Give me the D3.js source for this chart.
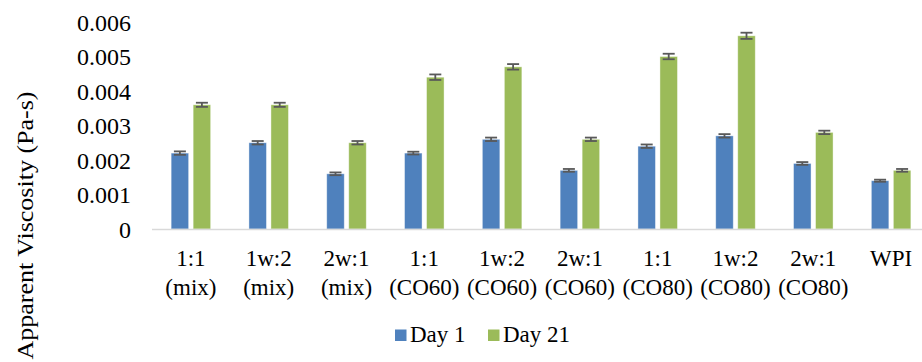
<!DOCTYPE html>
<html><head><meta charset="utf-8">
<script src="https://cdn.jsdelivr.net/npm/d3@7"></script>
<style>
@font-face{font-family:"ChartSerif";src:local("Liberation Serif"),local("LiberationSerif"),local("Tinos"),local("Times New Roman");}
</style>
</head>
<body style="margin:0">
<svg id="c" width="922" height="362" style="font-family:'Liberation Serif',ChartSerif,serif"></svg>
<script>
const categories = [["1:1","(mix)"],["1w:2","(mix)"],["2w:1","(mix)"],["1:1","(CO60)"],["1w:2","(CO60)"],["2w:1","(CO60)"],["1:1","(CO80)"],["1w:2","(CO80)"],["2w:1","(CO80)"],["WPI"]];
const seriesNames = ["Day 1","Day 21"];
const day1 = [0.0022,0.0025,0.0016,0.0022,0.0026,0.0017,0.0024,0.0027,0.0019,0.0014];
const day21 = [0.0036,0.0036,0.0025,0.0044,0.0047,0.0026,0.0050,0.0056,0.0028,0.0017];
const err1 = [0.00005,0.00005,0.00004,0.00004,0.00005,0.00004,0.00005,0.00005,0.00004,0.00003];
const err21 = [0.00006,0.00006,0.00005,0.00008,0.00008,0.00005,0.00008,0.00009,0.00005,0.00004];
const yTicks = [0,0.001,0.002,0.003,0.004,0.005,0.006];
const yTickLabels = ["0","0.001","0.002","0.003","0.004","0.005","0.006"];
const colors = ["#4f81bd","#9bbb59"];
const yTitle = "Apparent Viscosity (Pa-s)";

const FONT = '"Liberation Serif", ChartSerif, serif';
const FS = "23px";
const svg = d3.select("#c");
const keys = categories.map((c,i)=>"c"+i);
const x0 = d3.scaleBand().domain(keys).range([152,930]).paddingInner(0.492).paddingOuter(0.246);
const x1 = d3.scaleBand().domain(seriesNames).range([0,x0.bandwidth()]).paddingInner(0.2045);
const y = d3.scaleLinear().domain([0,0.006]).range([229,22]);

// y tick labels
const yAxis = d3.axisLeft(y).tickValues(yTicks).tickFormat((d,i)=>yTickLabels[i]).tickSize(0).tickPadding(0);
const ga = svg.append("g").attr("transform","translate(131,0)").call(yAxis);
ga.select(".domain").remove();
ga.attr("font-family",null).attr("font-size",null);
ga.selectAll("text").style("font-family",FONT).style("font-size","24px").attr("fill","#000").attr("dy","0.34em");

// bars
const data = [day1, day21];
const errs = [err1, err21];
seriesNames.forEach((s,si)=>{
  const g = svg.append("g");
  g.selectAll("rect").data(data[si]).join("rect")
    .attr("x",(d,i)=>x0(keys[i])+x1(s))
    .attr("y",d=>y(d))
    .attr("width",x1.bandwidth())
    .attr("height",d=>y(0)-y(d))
    .attr("fill",colors[si])
    .attr("stroke","#ffffff").attr("stroke-opacity",0.5).attr("stroke-width",0.8);
});

// x axis line
svg.append("line").attr("x1",152).attr("x2",930).attr("y1",y(0)+0.5).attr("y2",y(0)+0.5)
  .attr("stroke","#d9d9d9").attr("stroke-width",1.6);

// error bars
seriesNames.forEach((s,si)=>{
  const g = svg.append("g").attr("stroke","#595959").attr("stroke-width",1.8);
  data[si].forEach((v,i)=>{
    const cx = x0(keys[i])+x1(s)+x1.bandwidth()/2;
    const e = errs[si][i];
    g.append("line").attr("x1",cx).attr("x2",cx).attr("y1",y(v+e)).attr("y2",y(v-e));
    g.append("line").attr("x1",cx-6).attr("x2",cx+6).attr("y1",y(v+e)).attr("y2",y(v+e));
    g.append("line").attr("x1",cx-6).attr("x2",cx+6).attr("y1",y(v-e)).attr("y2",y(v-e));
  });
});

// x labels
categories.forEach((lines,i)=>{
  const cx = x0(keys[i])+x0.bandwidth()/2;
  lines.forEach((ln,j)=>{
    svg.append("text").attr("x",cx).attr("y",266+j*29).attr("text-anchor","middle")
      .style("font-family",FONT).style("font-size",FS).attr("fill","#000").text(ln);
  });
});

// y title
svg.append("text").attr("transform","translate(33,225.5) rotate(-90)")
  .attr("text-anchor","middle").style("font-family",FONT).style("font-size","24px")
  .attr("textLength",268).attr("lengthAdjust","spacingAndGlyphs")
  .attr("fill","#000").text(yTitle);

// legend
const legX = [395,488];
seriesNames.forEach((s,i)=>{
  svg.append("rect").attr("x",legX[i]).attr("y",329.5).attr("width",11.5).attr("height",11.5).attr("fill",colors[i]);
  svg.append("text").attr("x",legX[i]+15).attr("y",341.5).style("font-family",FONT).style("font-size",FS).attr("fill","#000").text(s);
});
</script>
</body></html>
